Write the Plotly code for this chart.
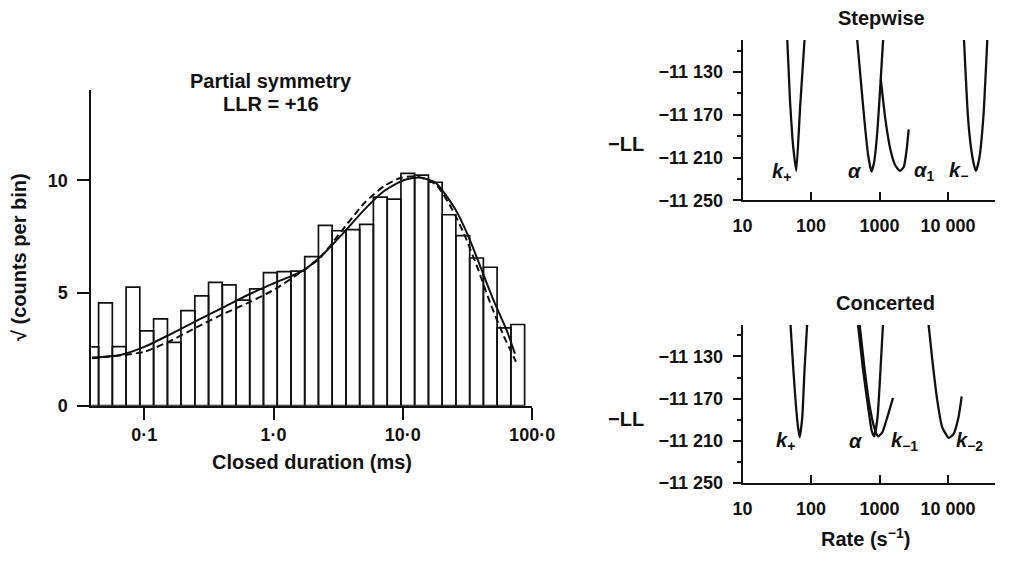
import numpy as np
import plotly.graph_objects as go

# ---------------- Left panel: closed-duration histogram ----------------
bin_edges_ms = [0.0347, 0.0443, 0.0566, 0.0723, 0.0923, 0.118, 0.151, 0.192, 0.246,
                0.314, 0.401, 0.512, 0.654, 0.835, 1.067, 1.363, 1.741, 2.223, 2.838,
                3.631, 4.634, 5.916, 7.568, 9.66, 12.33, 15.78, 20.14, 25.70, 32.89,
                41.98, 53.58, 68.55, 87.5]
sqrt_counts = [2.61, 4.56, 2.62, 5.26, 3.32, 3.85, 2.81, 4.22, 4.87, 5.47, 5.36, 4.68,
               5.18, 5.9, 5.95, 5.97, 6.61, 8.0, 7.76, 7.81, 8.04, 9.25, 9.16, 10.3,
               10.23, 9.91, 8.47, 7.54, 6.55, 6.14, 3.45, 3.6]

fit_t_ms = [0.0394, 0.0641, 0.1, 0.152, 0.255, 0.405, 0.641, 1.014, 1.70, 2.55, 3.39,
            5.08, 7.16, 10.1, 13.5, 18.0, 25.4, 31.9, 40.2, 50.6, 63.7, 73.6]
fit_solid = [2.14, 2.24, 2.61, 3.11, 3.77, 4.35, 4.93, 5.44, 6.0, 6.85, 7.6, 8.72, 9.52,
             10.0, 10.12, 9.88, 8.72, 7.55, 6.1, 4.64, 3.33, 2.31]

dash_t_ms = [0.0394, 0.0641, 0.1, 0.152, 0.255, 0.405, 0.641, 1.014, 1.70, 2.27, 3.39,
             5.08, 7.16, 9.55, 12.7, 18.0, 24.0, 30.1, 37.9, 47.8, 60.1, 75.0]
fit_dashed = [2.1, 2.22, 2.39, 2.82, 3.48, 4.06, 4.57, 5.15, 6.0, 6.53, 7.78, 9.01, 9.74,
              10.1, 10.17, 9.81, 8.72, 7.55, 6.1, 4.5, 3.11, 1.95]

hist_xticks = [0.1, 1, 10, 100]
hist_xticktext = ["0·1", "1·0", "10·0", "100·0"]
hist_yticks = [0, 5, 10]

# ---------------- Right panels: -LL profiles vs rate ----------------
# Stepwise
kplus_s_rate = [44.9, 49.1, 53.5, 56.5, 60.8, 69.3, 80.2]
kplus_s_ll = [-11100, -11155.7, -11192.5, -11207.8, -11222.5, -11161.8, -11100]
alpha_s_rate = [472, 537, 612, 682, 760, 830, 927, 1032, 1128]
alpha_s_ll = [-11100, -11140.4, -11180.2, -11207.8, -11223.0, -11215.0, -11186.3, -11140.4, -11100]
alpha1_s_rate = [1045, 1216, 1432, 1686, 1986, 2264, 2496, 2665]
alpha1_s_ll = [-11137, -11174.1, -11201.7, -11216.9, -11222.5, -11218.5, -11202, -11183.6]
kminus_s_rate = [17140, 19540, 21780, 24330, 25620, 28640, 32960, 37500]
kminus_s_ll = [-11100, -11171, -11201.7, -11218.5, -11222.5, -11210.9, -11171, -11100]

# Concerted
kplus_c_rate = [50.1, 54.9, 59.9, 64.5, 68.2, 74.3, 80.4, 87.5]
kplus_c_ll = [-11100, -11141.4, -11175.6, -11197.3, -11206.6, -11188.0, -11141.4, -11100]
alpha_c_rate = [485, 571, 673, 767, 836, 934, 1016, 1122]
alpha_c_ll = [-11100, -11141.4, -11175.6, -11200.3, -11205.9, -11188.0, -11150.7, -11100]
km1_c_rate = [512, 603, 710, 836, 953, 1099, 1294, 1574]
km1_c_ll = [-11100, -11141.4, -11175.6, -11197.3, -11205.9, -11201.9, -11188.0, -11169.3]
km2_c_rate = [5212, 5943, 7000, 8241, 10250, 12080, 14220, 15850]
km2_c_ll = [-11100, -11135.2, -11172.4, -11197.3, -11207.2, -11203.5, -11188.0, -11167.8]

rate_ticks = [10, 100, 1000, 10000]
rate_ticktext = ["<b>10</b>", "<b>100</b>", "<b>1000</b>", "<b>10 000</b>"]
ll_ticks = [-11250, -11210, -11170, -11130]
ll_ticktext = ["<b>\u221211 250</b>", "<b>\u221211 210</b>", "<b>\u221211 170</b>", "<b>\u221211 130</b>"]

FONT = "Liberation Sans, Arial, sans-serif"
BLACK = "#111111"

fig = go.Figure()

# histogram bars as closed polygons on the log axis
bx, by = [], []
for i, h in enumerate(sqrt_counts):
    l, r = bin_edges_ms[i], bin_edges_ms[i + 1]
    bx += [l, l, r, r, l, None]
    by += [0, h, h, 0, 0, None]
fig.add_trace(go.Scatter(x=bx, y=by, mode="lines", fill="toself", fillcolor="white",
                         line=dict(color=BLACK, width=1.7), xaxis="x", yaxis="y",
                         hoverinfo="skip", showlegend=False))
fig.add_trace(go.Scatter(x=dash_t_ms, y=fit_dashed, mode="lines",
                         line=dict(color=BLACK, width=2, dash="7px,4px", shape="spline", smoothing=0.6),
                         xaxis="x", yaxis="y", showlegend=False))
fig.add_trace(go.Scatter(x=fit_t_ms, y=fit_solid, mode="lines",
                         line=dict(color=BLACK, width=2, shape="spline", smoothing=0.6),
                         xaxis="x", yaxis="y", showlegend=False))

for rx, ry in [(kplus_s_rate, kplus_s_ll), (alpha_s_rate, alpha_s_ll),
               (alpha1_s_rate, alpha1_s_ll), (kminus_s_rate, kminus_s_ll)]:
    fig.add_trace(go.Scatter(x=rx, y=ry, mode="lines",
                             line=dict(color=BLACK, width=2.3, shape="spline", smoothing=0.5),
                             xaxis="x2", yaxis="y2", showlegend=False))
for rx, ry in [(kplus_c_rate, kplus_c_ll), (alpha_c_rate, alpha_c_ll),
               (km1_c_rate, km1_c_ll), (km2_c_rate, km2_c_ll)]:
    fig.add_trace(go.Scatter(x=rx, y=ry, mode="lines",
                             line=dict(color=BLACK, width=2.3, shape="spline", smoothing=0.5),
                             xaxis="x3", yaxis="y3", showlegend=False))

W, H = 1025, 562
def dx(a, b):
    return [a / W, b / W]
def dy(top, bottom):
    return [1 - bottom / H, 1 - top / H]

axis_common = dict(showline=True, linecolor=BLACK, linewidth=2, showgrid=False, zeroline=False,
                   tickcolor=BLACK, tickwidth=2, tickfont=dict(family=FONT, size=18, color=BLACK))

fig.update_layout(
    width=W, height=H, margin=dict(l=0, r=0, t=0, b=0),
    paper_bgcolor="white", plot_bgcolor="white", showlegend=False,
    font=dict(family=FONT, size=18, color=BLACK),
    xaxis=dict(type="log", range=[np.log10(0.0389), 2.0], domain=dx(84, 539.5), anchor="y",
               tickmode="array", tickvals=hist_xticks,
               ticktext=["<b>%s</b>" % t for t in hist_xticktext],
               ticks="outside", ticklen=12, **axis_common),
    yaxis=dict(range=[0, 14], domain=dy(91.7, 413), anchor="x",
               tickmode="array", tickvals=hist_yticks,
               ticktext=["<b>%d</b>" % v for v in hist_yticks],
               ticks="outside", ticklen=12, ticklabelstandoff=6, **axis_common),
    xaxis2=dict(type="log", range=[1, 4.69], domain=dx(757, 1018), anchor="y2",
                tickmode="array", tickvals=rate_ticks, ticktext=rate_ticktext,
                ticks="inside", ticklen=8, ticklabelstandoff=8, **axis_common),
    yaxis2=dict(range=[-11250, -11100], domain=dy(40.7, 204), anchor="x2",
                tickmode="array", tickvals=ll_ticks, ticktext=ll_ticktext,
                ticks="outside", ticklen=8, ticklabelstandoff=6,
                minor=dict(tickmode="linear", tick0=-11250, dtick=20, ticks="outside",
                           ticklen=4, tickwidth=2, tickcolor=BLACK),
                **axis_common),
    xaxis3=dict(type="log", range=[1, 4.69], domain=dx(757, 1018), anchor="y3",
                tickmode="array", tickvals=rate_ticks, ticktext=rate_ticktext,
                ticks="inside", ticklen=8, ticklabelstandoff=8, **axis_common),
    yaxis3=dict(range=[-11250, -11100], domain=dy(330.7, 491.7), anchor="x3",
                tickmode="array", tickvals=ll_ticks, ticktext=ll_ticktext,
                ticks="outside", ticklen=8, ticklabelstandoff=6,
                minor=dict(tickmode="linear", tick0=-11250, dtick=20, ticks="outside",
                           ticklen=4, tickwidth=2, tickcolor=BLACK),
                **axis_common),
)

def paper_text(text, x, y, size=20, angle=0):
    fig.add_annotation(text="<b>%s</b>" % text, x=x / W, y=1 - y / H, xref="paper", yref="paper",
                       showarrow=False, xanchor="center", yanchor="middle", textangle=angle,
                       font=dict(family=FONT, size=size, color=BLACK))

paper_text("Partial symmetry", 270, 82)
paper_text("LLR = +16", 270, 106)
paper_text("\u221a (counts per bin)", 10, 262, angle=-90)
paper_text("Closed duration (ms)", 312, 470)
paper_text("Stepwise", 901, 18)
paper_text("Concerted", 905, 308)
paper_text("Rate (s<sup>\u22121</sup>)", 884, 547)
paper_text("\u2212LL", 636, 147)
paper_text("\u2212LL", 636, 427)

def curve_label(text, x, y, ax, ay):
    fig.add_annotation(text="<b>%s</b>" % text, x=np.log10(x), y=y, xref=ax, yref=ay, showarrow=False,
                       xanchor="center", yanchor="middle",
                       font=dict(family=FONT, size=20, color=BLACK))

curve_label("<i>k</i><sub>+</sub>", 37, -11224, "x2", "y2")
curve_label("<i>\u03b1</i>", 442, -11223, "x2", "y2")
curve_label("<i>\u03b1</i><sub>1</sub>", 4490, -11223, "x2", "y2")
curve_label("<i>k</i><sub>\u2212</sub>", 14100, -11223, "x2", "y2")
curve_label("<i>k</i><sub>+</sub>", 43, -11211, "x3", "y3")
curve_label("<i>\u03b1</i>", 459, -11210, "x3", "y3")
curve_label("<i>k</i><sub>\u22121</sub>", 2355, -11211, "x3", "y3")
curve_label("<i>k</i><sub>\u22122</sub>", 20900, -11211, "x3", "y3")

fig.write_html("out.html")
